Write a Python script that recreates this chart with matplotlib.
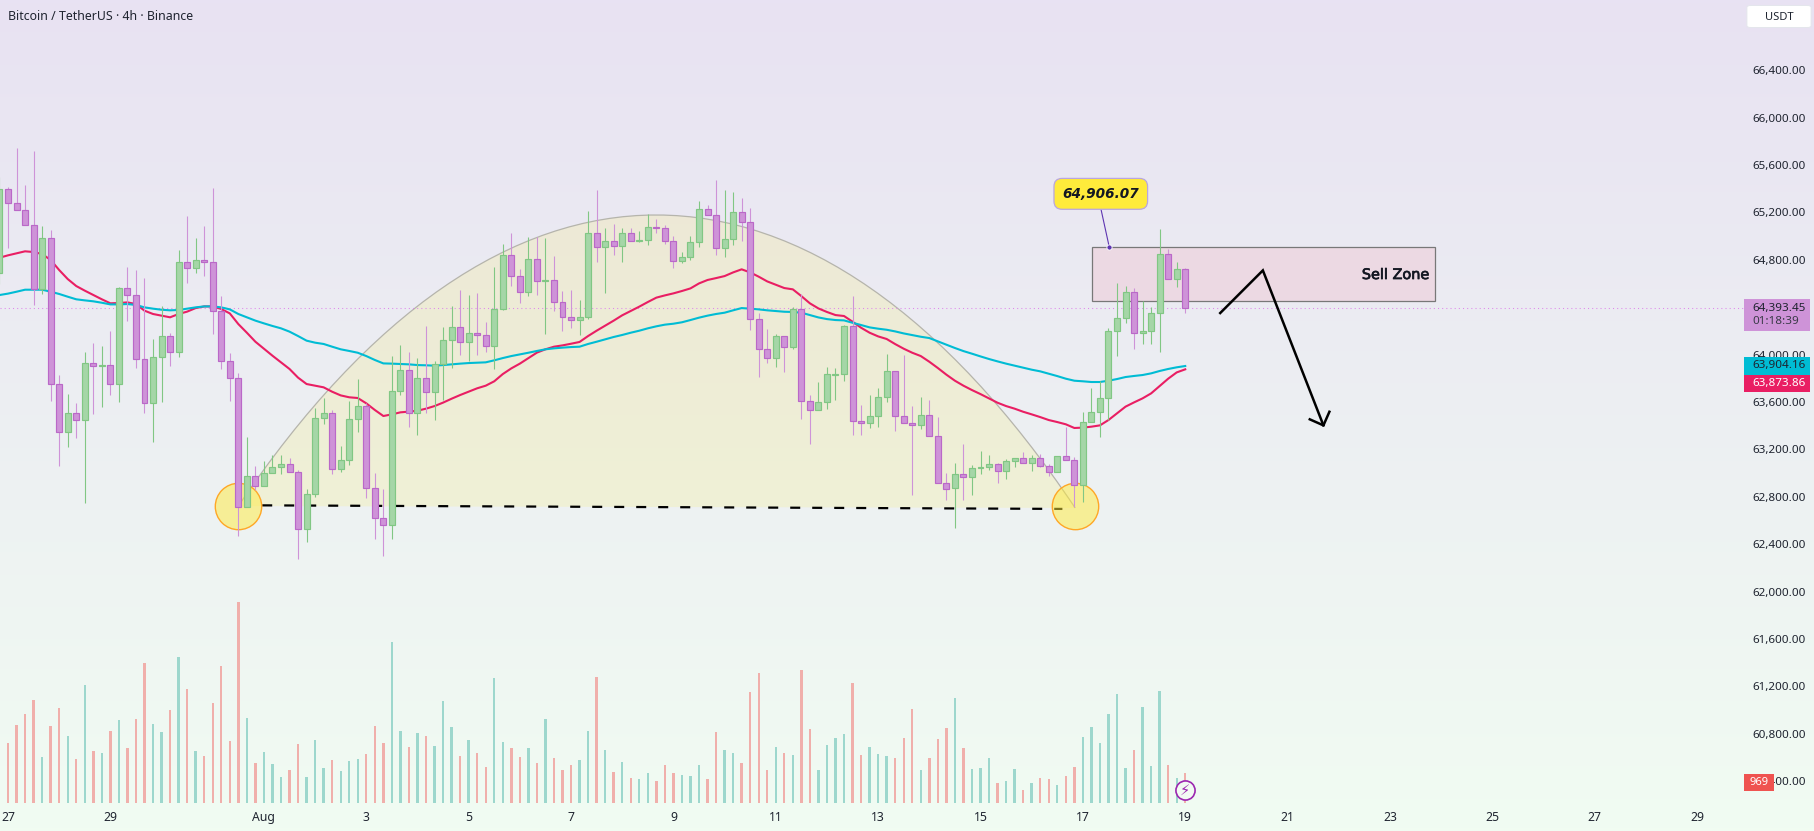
import numpy as np
import matplotlib
matplotlib.use('Agg')
import matplotlib.pyplot as plt
import matplotlib.patheffects as pe
from matplotlib.path import Path
from matplotlib.patches import PathPatch, Rectangle, FancyBboxPatch

# 4h candles, first one is half cut off at the left edge, then 27 Jul 00:00 onwards
first_index = -1

opens = [64692,
    65395, 65277, 65218, 65091, 64551, 64981, 63749, 63344, 63504, 63445,
    63926, 63901, 63910, 63749, 64559, 64500, 63960, 63589, 63977, 64154,
    64019, 64779, 64728, 64796, 64779, 64365, 63943, 63800, 62711, 62973,
    62888, 62998, 63049, 63074, 63007, 62526, 62821, 63462, 63504, 63032,
    63108, 63454, 63564, 62872, 62618, 62559, 63690, 63867, 63510, 63800,
    63682, 63918, 64121, 64230, 64104, 64180, 64163, 64070, 64382, 64838,
    64661, 64526, 64804, 64618, 64627, 64441, 64315, 64289, 64315, 65024,
    64905, 64956, 64914, 65024, 64959, 64964, 65077, 65066, 64956, 64787,
    64821, 64947, 65226, 65175, 64897, 64973, 65201, 65116, 64298, 64044,
    63969, 64154, 64061, 64382, 63606, 63530, 63597, 63831, 63833, 64238,
    63437, 63420, 63479, 63639, 63859, 63479, 63420, 63403, 63487, 63310,
    62914, 62871, 62990, 62964, 63043, 63049, 63074, 63015, 63099, 63125,
    63082, 63125, 63057, 63007, 63141, 63108, 62897, 63429, 63513, 63631,
    64197, 64306, 64526, 64180, 64197, 64348, 64846, 64635, 64720]
closes = [65395,
    65277, 65218, 65091, 64551, 64981, 63749, 63344, 63504, 63445, 63926,
    63901, 63910, 63749, 64559, 64500, 63960, 63589, 63977, 64154, 64019,
    64779, 64728, 64796, 64779, 64365, 63943, 63800, 62711, 62976, 62888,
    62998, 63049, 63074, 63007, 62526, 62821, 63462, 63504, 63032, 63108,
    63454, 63564, 62872, 62618, 62559, 63690, 63867, 63510, 63800, 63682,
    63918, 64121, 64230, 64104, 64180, 64163, 64070, 64382, 64838, 64661,
    64526, 64804, 64618, 64627, 64441, 64315, 64289, 64315, 65024, 64905,
    64956, 64914, 65024, 64956, 64964, 65074, 65071, 64956, 64787, 64821,
    64947, 65226, 65175, 64897, 64973, 65201, 65116, 64298, 64044, 63969,
    64154, 64061, 64382, 63606, 63530, 63597, 63833, 63836, 64238, 63437,
    63420, 63479, 63639, 63859, 63479, 63420, 63403, 63487, 63310, 62914,
    62863, 62990, 62964, 63040, 63049, 63074, 63015, 63099, 63125, 63082,
    63125, 63057, 63007, 63141, 63108, 62897, 63429, 63513, 63631, 64197,
    64306, 64526, 64180, 64197, 64348, 64846, 64635, 64720, 64393]
highs = [65500,
    65417, 65741, 65431, 65718, 65085, 65052, 63825, 63665, 63589, 64019,
    64095, 64070, 64197, 64568, 64737, 64711, 64644, 64129, 64407, 64180,
    64880, 65167, 64981, 65083, 65403, 64492, 64011, 63842, 63302, 63060,
    63102, 63153, 63153, 63125, 63026, 62863, 63547, 63631, 63530, 63226,
    63606, 63792, 63589, 63001, 62863, 63986, 64078, 64019, 63969, 64242,
    63943, 64230, 64407, 64543, 64500, 64517, 64273, 64737, 64931, 65024,
    64723, 64990, 64990, 64981, 64829, 64534, 64543, 64458, 65209, 65386,
    65066, 65100, 65066, 65066, 65040, 65184, 65142, 65091, 64998, 64863,
    64998, 65293, 65260, 65471, 65386, 65369, 65319, 65234, 64348, 64213,
    64171, 64154, 64399, 64509, 63656, 63766, 63898, 63884, 64247, 64492,
    63572, 63656, 63715, 64002, 63859, 63994, 63563, 63639, 63614, 63471,
    62998, 63082, 63243, 63065, 63184, 63150, 63082, 63116, 63125, 63175,
    63150, 63158, 63074, 63141, 63386, 63133, 63513, 63715, 63775, 64222,
    64602, 64576, 64559, 64450, 64399, 65057, 64888, 64779, 64728]
lows = [64600,
    64897, 65218, 65091, 64419, 64512, 63611, 63063, 63223, 63299, 62745,
    63502, 63561, 63662, 63603, 64287, 63890, 63510, 63265, 63603, 63907,
    63983, 64607, 64692, 64666, 64177, 63882, 63611, 62472, 62711, 62858,
    62888, 62998, 62990, 63007, 62278, 62416, 62801, 63417, 62990, 63012,
    63066, 63350, 62793, 62441, 62303, 62447, 63662, 63392, 63325, 63510,
    63451, 63620, 63890, 63999, 63949, 63999, 64025, 63882, 64377, 64582,
    64438, 64498, 64506, 64177, 64365, 64202, 64227, 64168, 64303, 64784,
    64523, 64844, 64784, 64956, 64948, 64928, 65024, 64936, 64734, 64776,
    64796, 64911, 65175, 64843, 64826, 64928, 64961, 64205, 63808, 63926,
    63898, 63856, 64044, 63454, 63243, 63530, 63538, 63614, 63774, 63319,
    63319, 63378, 63386, 63597, 63352, 63420, 62815, 63369, 63310, 62914,
    62773, 62537, 62773, 62815, 62992, 63029, 62919, 62953, 63049, 63082,
    63015, 63049, 62973, 63007, 63108, 62711, 62753, 63429, 63302, 63448,
    63985, 64270, 64050, 64092, 64092, 64025, 64635, 64568, 64354]
volumes = [0,
    1938, 2519, 2875, 3327, 1486, 2487, 3069, 2164, 1421, 3811,
    1680, 1615, 2326, 2681, 1777, 2713, 4522, 2552, 2293, 3004,
    4716, 3682, 1680, 1518, 3230, 4425, 2003, 6492, 2746, 1292,
    1647, 1260, 840, 1066, 1906, 840, 2035, 1131, 1389, 1034,
    1357, 1421, 1583, 2487, 1938, 5200, 2326, 1809, 2261, 2164,
    1841, 3295, 2455, 1518, 2035, 1615, 1163, 4038, 1970, 1777,
    1486, 1777, 1292, 2713, 1454, 1066, 1227, 1389, 2326, 4070,
    1712, 1001, 1324, 808, 775, 969, 711, 1227, 969, 904,
    872, 1227, 775, 2293, 1712, 1615, 1292, 3585, 4199, 1066,
    1809, 1615, 1550, 4296, 2390, 1066, 1873, 2100, 2229, 3876,
    1550, 1809, 1583, 1518, 1454, 2100, 3036, 1066, 1454, 2067,
    2423, 3392, 1777, 1098, 1131, 1454, 646, 711, 1098, 420,
    646, 808, 775, 581, 872, 1163, 2132, 2455, 1938, 2875,
    3521, 1131, 1712, 3101, 1195, 3618, 1227, 808, 969]
ema_fast = [64818,
    64838, 64855, 64872, 64866, 64849, 64799, 64714, 64638, 64579, 64540,
    64503, 64467, 64433, 64436, 64441, 64427, 64371, 64343, 64329, 64315,
    64343, 64363, 64393, 64407, 64407, 64385, 64348, 64258, 64185, 64109,
    64050, 63991, 63935, 63879, 63806, 63752, 63738, 63724, 63687, 63656,
    63640, 63634, 63589, 63533, 63482, 63496, 63513, 63519, 63527, 63544,
    63566, 63595, 63628, 63659, 63687, 63716, 63738, 63775, 63836, 63884,
    63924, 63971, 64017, 64045, 64067, 64078, 64092, 64107, 64157, 64202,
    64244, 64287, 64332, 64368, 64405, 64444, 64481, 64500, 64517, 64537,
    64559, 64601, 64630, 64646, 64663, 64694, 64720, 64694, 64658, 64618,
    64590, 64562, 64551, 64494, 64433, 64390, 64360, 64334, 64326, 64278,
    64227, 64185, 64154, 64132, 64089, 64050, 64016, 63988, 63940, 63887,
    63831, 63780, 63738, 63701, 63667, 63631, 63594, 63566, 63544, 63518,
    63496, 63473, 63448, 63431, 63412, 63381, 63384, 63392, 63403, 63448,
    63505, 63561, 63597, 63631, 63673, 63735, 63797, 63850, 63876]
ema_slow = [64503,
    64515, 64531, 64548, 64548, 64548, 64531, 64512, 64489, 64467, 64458,
    64450, 64438, 64424, 64424, 64427, 64419, 64399, 64388, 64379, 64374,
    64377, 64388, 64399, 64407, 64407, 64399, 64382, 64343, 64315, 64287,
    64264, 64242, 64222, 64194, 64157, 64118, 64101, 64090, 64067, 64045,
    64031, 64016, 63988, 63955, 63926, 63924, 63921, 63918, 63912, 63910,
    63907, 63912, 63918, 63924, 63929, 63932, 63935, 63952, 63971, 63988,
    64002, 64016, 64031, 64045, 64053, 64059, 64064, 64067, 64090, 64109,
    64129, 64149, 64166, 64185, 64202, 64222, 64239, 64253, 64261, 64273,
    64292, 64312, 64329, 64343, 64354, 64374, 64393, 64388, 64382, 64374,
    64368, 64362, 64360, 64354, 64334, 64314, 64300, 64292, 64289, 64269,
    64250, 64230, 64219, 64210, 64196, 64179, 64165, 64151, 64140, 64112,
    64084, 64056, 64030, 64008, 63985, 63963, 63943, 63924, 63907, 63890,
    63873, 63859, 63839, 63819, 63797, 63780, 63775, 63769, 63769, 63780,
    63794, 63811, 63820, 63828, 63842, 63862, 63879, 63893, 63904]

date_ticks = [0, 12, 30, 42, 54, 66, 78, 90, 102, 114, 126, 138, 150, 162, 174, 186, 198]
date_labels = ['27', '29', 'Aug', '3', '5', '7', '9', '11', '13', '15', '17', '19', '21', '23', '25', '27', '29']
price_ticks = [60400 + 400 * i for i in range(16)]

last_price = 64393.45
sell_zone_top = 64906.07
sell_zone_bottom = 64450

W, H = 1815, 831
plt.rcParams['font.family'] = ['Noto Sans', 'DejaVu Sans']
fig = plt.figure(figsize=(W / 100, H / 100), dpi=100)
TXT = '#1f2430'

# background gradient lavender -> mint
bg = fig.add_axes([0, 0, 1, 1], zorder=-1)
top_col = np.array([232, 226, 243]) / 255
bot_col = np.array([241, 252, 242]) / 255
t = np.linspace(0, 1, 256)[:, None, None]
bg.imshow(top_col[None, None, :] * (1 - t) + bot_col[None, None, :] * t, aspect='auto', extent=[0, 1, 0, 1])
bg.axis('off')

# px/candle 8.53, px/USD 0.1185
ax = fig.add_axes([0, 28 / H, 1744 / W, 803 / H])
vol_ax = ax.twinx()
ax.set_zorder(vol_ax.get_zorder() + 1)
ax.patch.set_visible(False)
vol_ax.patch.set_visible(False)

x = np.arange(first_index, first_index + len(opens))
o = np.array(opens, dtype=float)
c = np.array(closes, dtype=float)
h = np.array(highs, dtype=float)
l = np.array(lows, dtype=float)
up = c >= o

# volume
vol_cols = np.where(up, '#9DD7CD', '#F0AFAB')
vol_ax.bar(x, volumes, width=0.28, color=vol_cols, linewidth=0)
vol_ax.set_ylim(0, 803 * 32.3)
vol_ax.set_yticks([])
for s in vol_ax.spines.values():
    s.set_visible(False)

# rounded-top shape and the neckline
dome = Path([(27, 62722), (57.7, 66000), (94.4, 66000), (125.1, 62706), (27, 62722)],
            [Path.MOVETO, Path.CURVE4, Path.CURVE4, Path.CURVE4, Path.CLOSEPOLY])
ax.add_patch(PathPatch(dome, facecolor='#FFEB3B', alpha=0.15, edgecolor='none', zorder=1))
dome_edge = Path([(27, 62722), (57.7, 66000), (94.4, 66000), (125.1, 62706)],
                 [Path.MOVETO, Path.CURVE4, Path.CURVE4, Path.CURVE4])
ax.add_patch(PathPatch(dome_edge, facecolor='none', edgecolor='#B5B4AC', lw=0.9, zorder=1.2))
ax.plot([29.8, 123.6], [62728, 62698], color='black', lw=1.6, linestyle=(0, (4.5, 5.4)), zorder=1.3)
ax.scatter([27, 125.1], [62724, 62724], s=1116, facecolor=(1, 0.92, 0.23, 0.5), edgecolor='#FFA726', linewidth=1.0, zorder=1.5)

# sell zone
ax.add_patch(Rectangle((127.1, sell_zone_bottom), 40.2, sell_zone_top - sell_zone_bottom,
                       facecolor='#ECD9E3', edgecolor='#787878', lw=0.9, zorder=1.1))
ax.text(166.6, 64672, 'Sell Zone', ha='right', va='center', fontsize=10.4, color='#131722',
        family='DejaVu Sans', zorder=6,
        path_effects=[pe.withStroke(linewidth=0.5, foreground='#131722')])

ax.axhline(last_price, color='#DE86EC', lw=0.75, linestyle=(0, (1, 3)), zorder=1.4)

# moving averages, sit under the candles
ax.plot(x, ema_fast, color='#E91E63', lw=1.5, zorder=2)
ax.plot(x, ema_slow, color='#00BCD4', lw=1.5, zorder=2)

# candles
ax.vlines(x[up], l[up], h[up], color='#81C784', lw=0.8, zorder=3)
ax.vlines(x[~up], l[~up], h[~up], color='#CE93D8', lw=0.8, zorder=3)
body_bottom = np.minimum(o, c)
body_height = np.maximum(np.abs(c - o), 8)
ax.bar(x[up], body_height[up], bottom=body_bottom[up], width=0.7, color='#A5D6A7', edgecolor='#81C784', linewidth=0.85, zorder=4)
ax.bar(x[~up], body_height[~up], bottom=body_bottom[~up], width=0.7, color='#CE93D8', edgecolor='#BA68C8', linewidth=0.85, zorder=4)

# drawn arrow
ax.plot([142.1, 147.1, 154.2], [64351, 64711, 63403], color='black', lw=1.8, zorder=6, solid_joinstyle='miter')
ax.plot([152.6, 154.2, 154.9], [63454, 63403, 63518], color='black', lw=1.8, zorder=6)

# price callout
ax.plot([128.1, 129.1], [65235, sell_zone_top], color='#5E35B1', lw=0.8, zorder=6)
ax.scatter([129.1], [sell_zone_top], s=14, color='#5E35B1', edgecolor='white', linewidth=0.6, zorder=7)
ax.text(128.1, 65357, '64,906.07', ha='center', va='center', fontsize=9.8, color='#131722',
        family='DejaVu Sans', weight='bold', style='italic', zorder=7,
        bbox=dict(boxstyle='round,pad=0.62,rounding_size=0.6', facecolor='#FFEB3B', edgecolor='#B9A6E0', linewidth=0.9))

# lightning marker under the last candle
ax.scatter([138], [60323], s=190, facecolor='#F2FBF3', edgecolor='#9C27B0', linewidth=1.2, zorder=7, clip_on=False)
ax.text(138, 60323, '\u26a1', ha='center', va='center', fontsize=10.5, color='#9C27B0', family='DejaVu Sans', zorder=8)

# axes
ax.set_xlim(-0.938, 203.5)
ax.set_ylim(60216, 66993)
ax.yaxis.tick_right()
ax.set_yticks(price_ticks)
ax.set_yticklabels([f'{p:,.2f}' for p in price_ticks])
ax.set_xticks(date_ticks)
ax.set_xticklabels(date_labels)
ax.tick_params(axis='y', length=0, pad=5.8, labelsize=8.4, labelcolor=TXT)
ax.tick_params(axis='x', length=0, pad=5.5, labelsize=8.8, labelcolor=TXT)
ax.get_xticklabels()[2].set_fontweight('bold')
for s in ax.spines.values():
    s.set_visible(False)

# price scale tags
scale_tr = ax.get_yaxis_transform()

def price_tag(y0, y1, color, width=66):
    ax.add_patch(Rectangle((1.0, y0), width / 1744, y1 - y0, transform=scale_tr, facecolor=color,
                           edgecolor='none', clip_on=False, zorder=9))

def tag_text(y, s, color, weight='normal'):
    ax.text(1.0 + 8 / 1744, y, s, transform=scale_tr, ha='left', va='center', fontsize=8.4,
            color=color, weight=weight, clip_on=False, zorder=10)

price_tag(64201, 64467, '#CE93D8')
tag_text(last_price, '64,393.45', TXT)
tag_text(64278, '01:18:39', '#3a3a48')
price_tag(63832, 63976, '#00BCD4')
tag_text(63904.16, '63,904.16', TXT)
price_tag(63688, 63832, '#E91E63')
tag_text(63760, '63,873.86', 'white', 'bold')

price_tag(60320, 60463, '#EF5350', width=30)
ax.text(1.0 + 15 / 1744, 60390, '969', transform=scale_tr, ha='center', va='center', fontsize=8.0,
        color='white', clip_on=False, zorder=11)

# header text and currency box
fig.text(8 / W, 1 - 16 / H, 'Bitcoin / TetherUS \u00b7 4h \u00b7 Binance', ha='left', va='center', fontsize=8.85, color=TXT)
fig.add_artist(FancyBboxPatch((1748 / W, 1 - 27 / H), 62 / W, 21 / H, transform=fig.transFigure,
                              boxstyle='round,pad=0.0006,rounding_size=0.002', facecolor='white',
                              edgecolor='#E4E6EC', linewidth=0.7))
fig.text(1779 / W, 1 - 17 / H, 'USDT', ha='center', va='center', fontsize=8, color=TXT)

fig.savefig('out.png', dpi=100)
